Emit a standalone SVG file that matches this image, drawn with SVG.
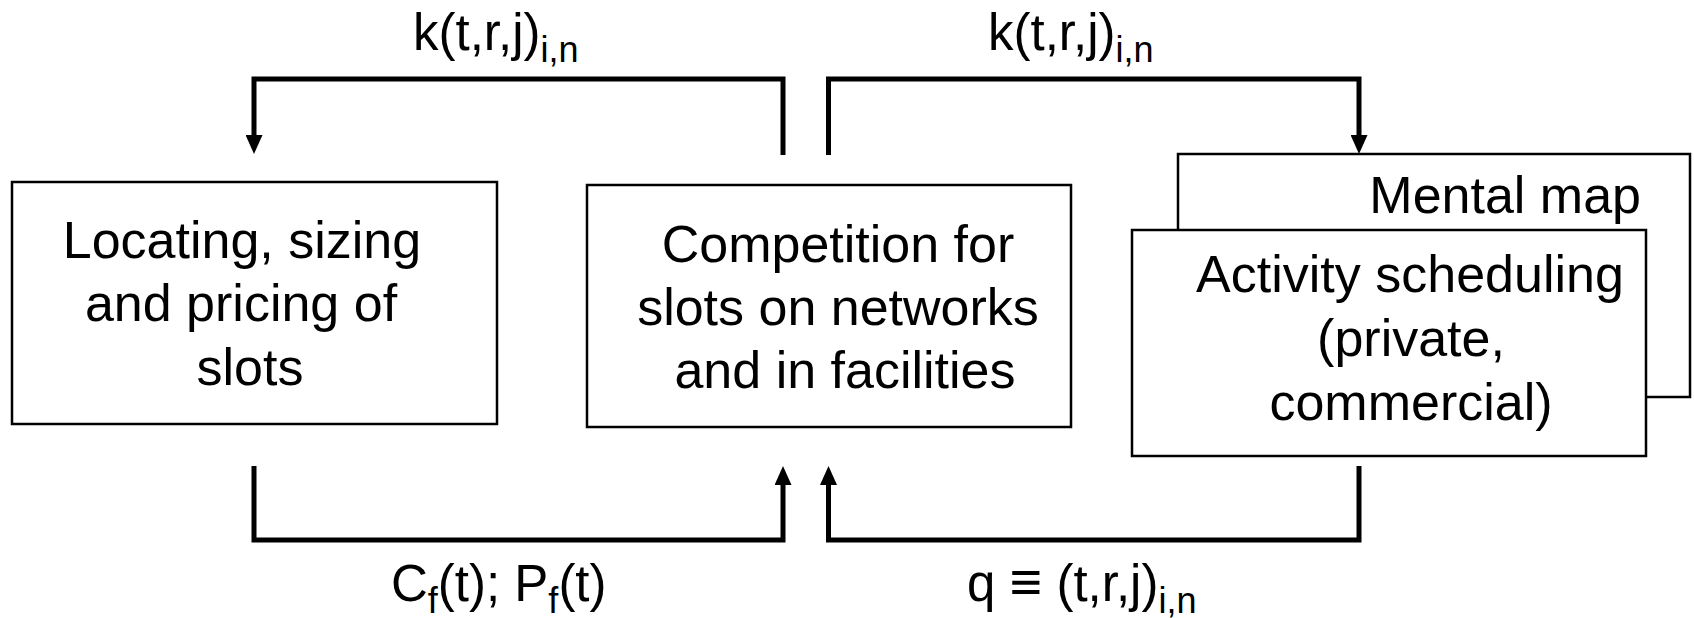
<svg xmlns="http://www.w3.org/2000/svg" width="1694" height="618" viewBox="0 0 1694 618">
<style>
  .box { fill: #fff; stroke: #000; stroke-width: 2.5; }
  .t { font-family: "Liberation Sans", Arial, sans-serif; font-size: 52px; fill: #000; }
  .lbl { font-family: "Liberation Sans", Arial, sans-serif; font-size: 51px; fill: #000; }
  .sub { font-size: 36px; }
  .conn { fill: none; stroke: #000; stroke-width: 5; stroke-linejoin: miter; }
</style>
<defs>
  <marker id="arr" markerUnits="userSpaceOnUse" markerWidth="20" markerHeight="17" refX="4" refY="8.5" orient="auto">
    <path d="M0,0 L19,8.5 L0,17 z" fill="#000"/>
  </marker>
</defs>
<rect width="1694" height="618" fill="#fff"/>

<g id="node-locating">
  <rect class="box" x="12" y="182" width="485" height="242"/>
  <text class="t" text-anchor="middle" x="242" y="258">Locating, sizing</text>
  <text class="t" text-anchor="middle" x="241" y="321">and pricing of</text>
  <text class="t" text-anchor="middle" x="250" y="385">slots</text>
</g>

<g id="node-competition">
  <rect class="box" x="587" y="185" width="484" height="242"/>
  <text class="t" text-anchor="middle" x="838" y="262">Competition for</text>
  <text class="t" text-anchor="middle" x="838" y="325">slots on networks</text>
  <text class="t" text-anchor="middle" x="845" y="388">and in facilities</text>
</g>

<g id="node-mental-map">
  <rect class="box" x="1178" y="154" width="512" height="243"/>
  <text class="t" text-anchor="end" x="1641" y="213">Mental map</text>
</g>

<g id="node-activity">
  <rect class="box" x="1132" y="230" width="514" height="226"/>
  <text class="t" text-anchor="middle" x="1410" y="292">Activity scheduling</text>
  <text class="t" text-anchor="middle" x="1411" y="356">(private,</text>
  <text class="t" text-anchor="middle" x="1411" y="420">commercial)</text>
</g>

<g id="connectors">
  <path class="conn" d="M783,155 L783,79 L254,79 L254,139" marker-end="url(#arr)"/>
  <path class="conn" d="M828.5,155 L828.5,79 L1359,79 L1359,139" marker-end="url(#arr)"/>
  <path class="conn" d="M254,466 L254,540 L783,540 L783,481" marker-end="url(#arr)"/>
  <path class="conn" d="M1359,466 L1359,540 L828.5,540 L828.5,481" marker-end="url(#arr)"/>
</g>

<g id="labels">
  <text class="lbl" x="413" y="50">k(t,r,j)<tspan class="sub" dy="12">i,n</tspan></text>
  <text class="lbl" x="988" y="50">k(t,r,j)<tspan class="sub" dy="12">i,n</tspan></text>
  <text class="lbl" x="391" y="601">C<tspan class="sub" dy="12">f</tspan><tspan dy="-12">(t); P</tspan><tspan class="sub" dy="12">f</tspan><tspan dy="-12">(t)</tspan></text>
  <text class="lbl" x="967" y="601">q <tspan font-size="56">≡</tspan> (t,r,j)<tspan class="sub" dy="12">i,n</tspan></text>
</g>
</svg>
